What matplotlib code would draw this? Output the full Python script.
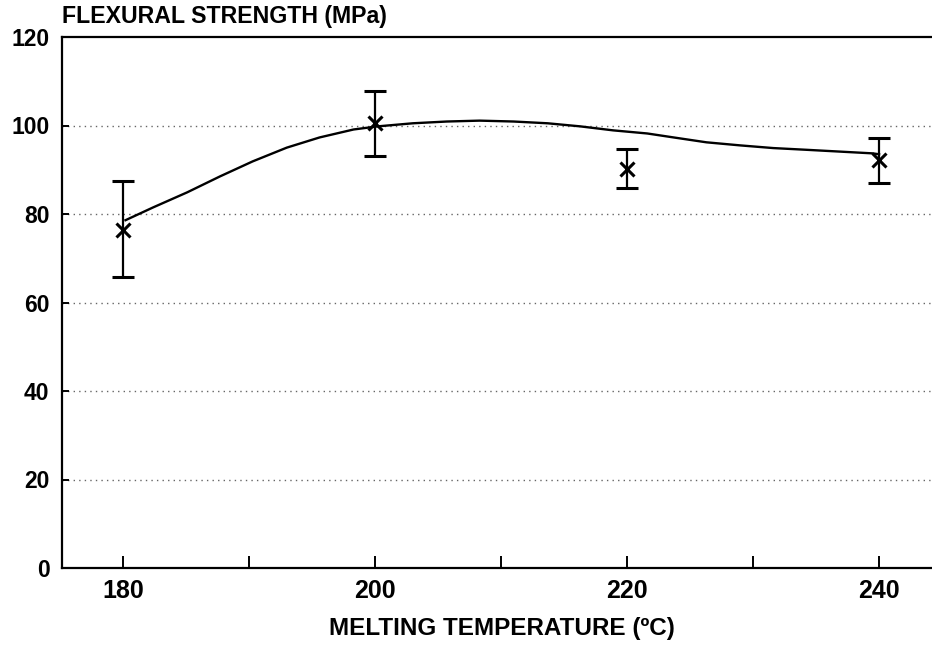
import matplotlib
matplotlib.use("Agg")
import matplotlib.pyplot as plt
from matplotlib import font_manager

# Data
temps = [180, 200, 220, 240]
strength = [76.3, 100.5, 90.1, 92.3]
err_upper = [87.4, 107.7, 94.6, 97.2]
err_lower = [65.7, 93.2, 85.8, 87.1]

curve_x = [180.2, 182.4, 185.1, 187.7, 190.3, 193.0, 195.6, 198.3, 200.2,
           203.0, 205.7, 208.3, 211.0, 213.7, 216.3, 218.9, 221.6,
           223.7, 226.3, 229.0, 231.6, 234.3, 236.9, 239.5, 240.0]
curve_y = [78.6, 81.5, 84.9, 88.5, 91.9, 95.0, 97.3, 99.1, 99.8,
           100.5, 100.9, 101.1, 100.9, 100.5, 99.8, 98.9, 98.2,
           97.3, 96.2, 95.5, 94.9, 94.5, 94.1, 93.7, 93.5]

y_ticks = [0, 20, 40, 60, 80, 100, 120]
x_ticks = [180, 200, 220, 240]
x_minor = [190, 210, 230]

names = {f.name for f in font_manager.fontManager.ttflist}
main_font = "Liberation Sans" if "Liberation Sans" in names else "DejaVu Sans"

fig = plt.figure(figsize=(9.32, 6.47), dpi=100)
ax = fig.add_axes([62/932, 1-568/647, 1-62/932 + 0.01, (568-37)/647])

ax.set_xlim(175.16, 244.2 + 0.01*932/12.6)
ax.set_ylim(0, 120)

for v in y_ticks[1:-1]:
    ax.axhline(v, color="#666666", lw=1.0, ls=(0, (1, 3)), zorder=1)

ax.plot(curve_x, curve_y, color="black", lw=1.7, zorder=3)

yerr = [[s - l for s, l in zip(strength, err_lower)],
        [u - s for s, u in zip(strength, err_upper)]]
ax.errorbar(temps, strength, yerr=yerr, fmt="x", color="black",
            ms=10.5, mew=2.2, elinewidth=1.6, capsize=8, capthick=1.6, zorder=4)

for s in ["left", "bottom", "top"]:
    ax.spines[s].set_linewidth(1.6)
ax.spines["right"].set_visible(False)

ax.set_yticks(y_ticks)
ax.set_yticklabels([str(v) for v in y_ticks], fontfamily=main_font,
                   fontweight="bold", fontsize=16.5)
ax.tick_params(axis="y", direction="in", length=5, width=1.4, pad=9)

ax.set_xticks(x_ticks)
ax.set_xticks(x_minor, minor=True)
ax.set_xticklabels([str(v) for v in x_ticks], fontfamily=main_font,
                   fontweight="bold", fontsize=18)
ax.tick_params(axis="x", which="both", direction="in", length=9, width=1.4, pad=8)

ax.set_xlabel("MELTING TEMPERATURE (ºC)", fontfamily=main_font,
              fontweight="bold", fontsize=17.5, labelpad=10)

fig.text(62/932, 1-17/647, "FLEXURAL STRENGTH (MPa)", fontfamily=main_font,
         fontweight="bold", fontsize=16.7, ha="left", va="center")

fig.savefig("out.png", dpi=100)
